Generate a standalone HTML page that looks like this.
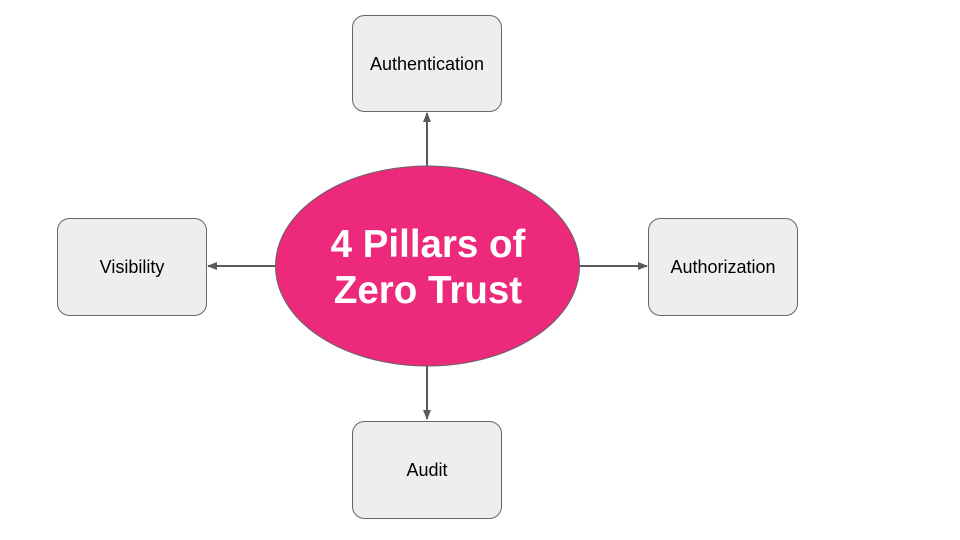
<!DOCTYPE html>
<html><head><meta charset="utf-8"><style>
html,body{margin:0;padding:0;background:#fff;}
svg{display:block;}
text{font-family:"Liberation Sans",Arial,sans-serif;}
</style></head><body>
<svg width="960" height="540" viewBox="0 0 960 540" xmlns="http://www.w3.org/2000/svg">
<defs><marker id="a" markerWidth="10" markerHeight="8" refX="9" refY="4" orient="auto" markerUnits="userSpaceOnUse"><path d="M0,0 L10,4 L0,8 Z" fill="#595959"/></marker></defs>
<g fill="#eeeeee" stroke="#666" stroke-width="1">
<rect x="352.5" y="15.5" width="149" height="96" rx="12"/>
<rect x="57.5" y="218.5" width="149" height="97" rx="12"/>
<rect x="648.5" y="218.5" width="149" height="97" rx="12"/>
<rect x="352.5" y="421.5" width="149" height="97" rx="12"/>
</g>
<g stroke="#595959" stroke-width="2" marker-end="url(#a)">
<line x1="427" y1="166" x2="427" y2="113"/>
<line x1="276" y1="266" x2="208" y2="266"/>
<line x1="579" y1="266" x2="647" y2="266"/>
<line x1="427" y1="366" x2="427" y2="419"/>
</g>
<ellipse cx="427.5" cy="266" rx="152" ry="100" fill="#ec297b" stroke="#666" stroke-width="1"/>
<g font-size="18" fill="#000" text-anchor="middle">
<text x="427" y="70">Authentication</text>
<text x="132" y="273">Visibility</text>
<text x="723" y="273">Authorization</text>
<text x="427" y="476">Audit</text>
</g>
<g font-size="38.5" font-weight="bold" fill="#fff" text-anchor="middle">
<text x="428" y="257">4 Pillars of</text>
<text x="428" y="303">Zero Trust</text>
</g>
</svg>
</body></html>
